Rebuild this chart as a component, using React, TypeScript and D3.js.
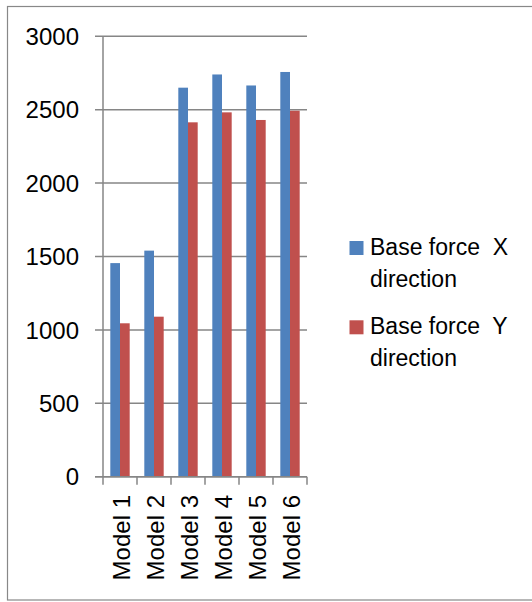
import React from "react";
import * as d3 from "d3";

const categories = ["Model 1", "Model 2", "Model 3", "Model 4", "Model 5", "Model 6"];
const seriesNames = ["Base force  X", "Base force  Y"];
const baseForceX = [1455, 1540, 2650, 2740, 2665, 2757];
const baseForceY = [1045, 1090, 2414, 2482, 2430, 2493];
const yTicks = [0, 500, 1000, 1500, 2000, 2500, 3000];
const colors = ["#4F81BD", "#C0504D"];

const W = 532;
const H = 602;
const FONT = "'Liberation Sans', Arial, sans-serif";

export default function App() {
  const left = 103;
  const right = 307;
  const top = 36.3;
  const bottom = 476.7;

  const y = d3.scaleLinear().domain([0, 3000]).range([bottom, top]);
  const x0 = d3.scaleBand<string>().domain(categories).range([left, right]).paddingInner(0.43).paddingOuter(0.215);
  const x1 = d3.scaleBand<number>().domain([0, 1]).range([0, x0.bandwidth()]);
  const step = x0.step();
  const series = [baseForceX, baseForceY];

  return (
    <svg width={W} height={H} style={{ position: "absolute", left: 0, top: 0 }} fontFamily={FONT}>
      <rect x={7.5} y={6.5} width={540} height={593.5} fill="#fff" stroke="#888" strokeWidth={1.2} />

      {/* horizontal gridlines with left tick marks */}
      {yTicks.map((t) => (
        <g key={t}>
          <line x1={95} x2={right} y1={y(t)} y2={y(t)} stroke="#868686" strokeWidth={1.5} />
          <text x={79} y={y(t)} dy="0.36em" textAnchor="end" fontSize={24} fill="#000">
            {t}
          </text>
        </g>
      ))}

      {/* bars */}
      {categories.map((c, i) => (
        <g key={c} transform={`translate(${x0(c)},0)`}>
          {series.map((vals, s) => (
            <rect
              key={s}
              x={x1(s)}
              y={y(vals[i])}
              width={x1.bandwidth()}
              height={y(0) - y(vals[i])}
              fill={colors[s]}
            />
          ))}
        </g>
      ))}

      {/* y axis line */}
      <line x1={left} x2={left} y1={top} y2={bottom} stroke="#868686" strokeWidth={1.5} />
      {/* x axis line and category tick marks */}
      <line x1={95} x2={right} y1={bottom} y2={bottom} stroke="#868686" strokeWidth={1.5} />
      {d3.range(categories.length + 1).map((k) => (
        <line key={k} x1={left + k * step} x2={left + k * step} y1={bottom} y2={bottom + 8} stroke="#868686" strokeWidth={1.5} />
      ))}

      {/* rotated category labels */}
      {categories.map((c) => {
        const cx = (x0(c) as number) + x0.bandwidth() / 2 + 1.5;
        return (
          <text
            key={c}
            transform={`translate(${cx},${495}) rotate(-90)`}
            textAnchor="end"
            dominantBaseline="central"
            fontSize={24}
            fill="#000"
          >
            {c}
          </text>
        );
      })}

      {/* legend */}
      {seriesNames.map((name, s) => {
        const ly = 241 + s * 79.3;
        return (
          <g key={name}>
            <rect x={349.5} y={ly} width={14} height={14} fill={colors[s]} />
            <text x={370} y={ly + 14} fontSize={23} fill="#000" xmlSpace="preserve" style={{ whiteSpace: "pre" }}>
              {name}
            </text>
            <text x={370} y={ly + 45.7} fontSize={23} fill="#000">
              direction
            </text>
          </g>
        );
      })}
    </svg>
  );
}
